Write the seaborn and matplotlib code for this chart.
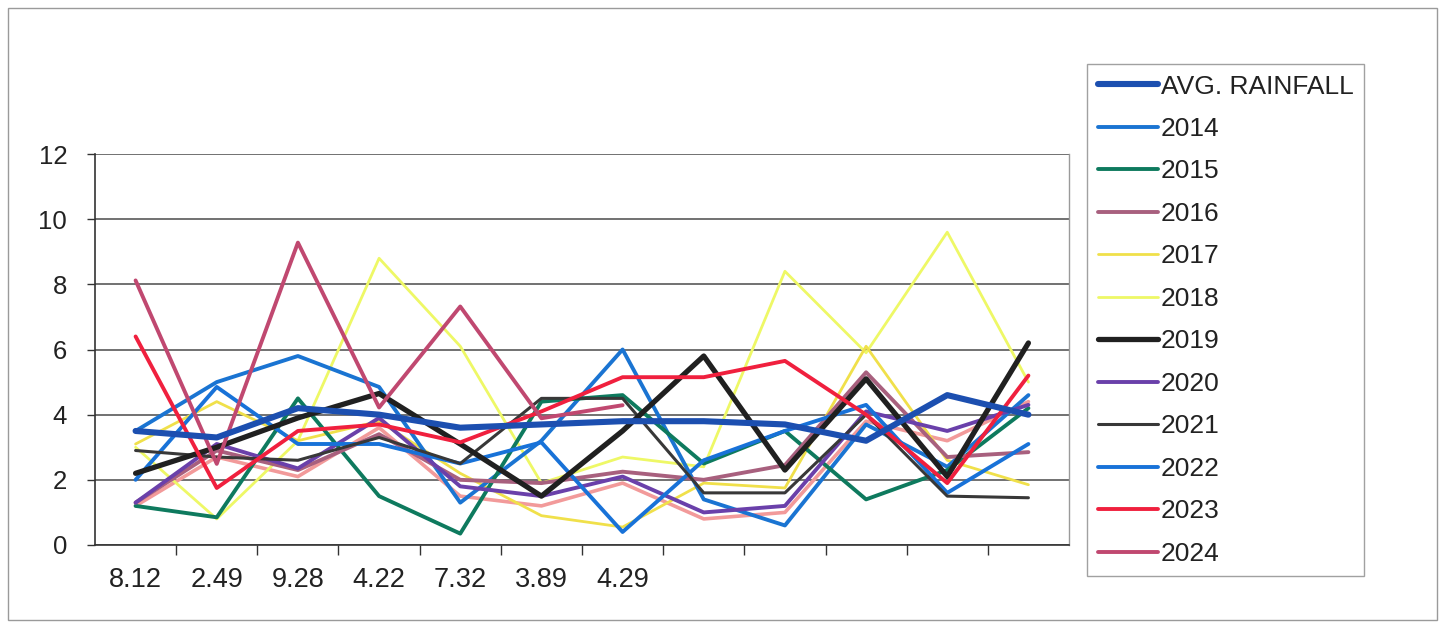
import numpy as np
import pandas as pd
import matplotlib
matplotlib.use("Agg")
import matplotlib.pyplot as plt
from matplotlib.patches import Rectangle
from matplotlib.ticker import FixedLocator, NullFormatter
import seaborn as sns

# ---- data ----
x_labels = ["8.12", "2.49", "9.28", "4.22", "7.32", "3.89", "4.29", "", "", "", "", ""]

avg_rainfall = [3.5, 3.3, 4.2, 4.0, 3.6, 3.7, 3.8, 3.8, 3.7, 3.2, 4.6, 4.0]
y2014 = [3.5, 5.0, 5.8, 4.85, 1.3, 3.2, 6.0, 1.4, 0.6, 3.7, 2.4, 4.6]
y2015 = [1.2, 0.85, 4.5, 1.5, 0.35, 4.4, 4.6, 2.5, 3.5, 1.4, 2.3, 4.2]
y2016 = [1.3, 2.9, 2.3, 3.4, 2.0, 1.9, 2.25, 2.0, 2.45, 5.3, 2.7, 2.85]
y2017 = [3.1, 4.4, 3.2, 3.8, 2.2, 0.9, 0.55, 1.9, 1.75, 6.1, 2.6, 1.85]
y2018 = [3.0, 0.8, 3.2, 8.8, 6.1, 1.9, 2.7, 2.4, 8.4, 5.9, 9.6, 5.0]
y2019 = [2.2, 3.0, 3.9, 4.65, 3.1, 1.5, 3.5, 5.8, 2.3, 5.1, 2.1, 6.2]
y2020 = [1.3, 3.1, 2.35, 3.9, 1.8, 1.5, 2.1, 1.0, 1.2, 4.1, 3.5, 4.3]
y2021 = [2.9, 2.7, 2.6, 3.3, 2.5, 4.5, 4.5, 1.6, 1.6, 4.0, 1.5, 1.45]
y2022 = [2.0, 4.85, 3.1, 3.1, 2.5, 3.15, 0.4, 2.6, 3.5, 4.3, 1.6, 3.1]
y2023 = [6.4, 1.75, 3.5, 3.7, 3.15, 4.1, 5.15, 5.15, 5.65, 4.0, 1.9, 5.2]
y2024 = [8.12, 2.49, 9.28, 4.22, 7.32, 3.89, 4.29, np.nan, np.nan, np.nan, np.nan, np.nan]
# faint pink trace visible just under the 2020 line (print misregistration)
trace_pink = [1.2, 2.7, 2.1, 3.6, 1.5, 1.2, 1.9, 0.8, 1.0, 3.8, 3.2, 4.4]

series_names = ["AVG. RAINFALL", "2014", "2015", "2016", "2017", "2018",
                "2019", "2020", "2021", "2022", "2023", "2024"]
series_values = [avg_rainfall, y2014, y2015, y2016, y2017, y2018,
                 y2019, y2020, y2021, y2022, y2023, y2024]
colors = ["#1c4fb0", "#1a74d2", "#0e7a5e", "#a8607e", "#f0e04a", "#eef866",
          "#202020", "#6a40aa", "#383838", "#1872d8", "#f0203e", "#c04870"]
widths = [4.4, 2.8, 2.8, 2.8, 2.0, 2.0, 3.8, 2.8, 2.2, 2.8, 2.8, 2.8]

sns.set_theme(style="white")
plt.rcParams["font.family"] = ["Liberation Sans", "DejaVu Sans"]

fig = plt.figure(figsize=(14.46, 6.30), dpi=100)
ax = fig.add_axes([95/1446, 1-545/630, (1069-95)/1446, (545-154)/630])

xs = np.arange(len(x_labels))

# extra faint trace first (no legend entry)
sns.lineplot(x=xs, y=trace_pink, ax=ax, color="#f29a9a", linewidth=2.6,
             label="_nolegend_", legend=False)

order = [5, 4, 1, 2, 3, 7, 9, 8, 6, 10, 11, 0]
handles = {}
for i in order:
    df = pd.DataFrame({"x": xs, "y": series_values[i]}).dropna()
    sns.lineplot(data=df, x="x", y="y", ax=ax, color=colors[i],
                 linewidth=widths[i], label=series_names[i], legend=False)
    handles[i] = ax.lines[-1]

ax.set_xlim(-0.5, len(x_labels) - 0.5)
ax.set_ylim(0, 12)
ax.set_yticks(np.arange(0, 13, 2))
ax.yaxis.grid(True, color="#4a4a4a", linewidth=1.1)
ax.xaxis.grid(False)
ax.set_xlabel("")
ax.set_ylabel("")

ax.set_xticks(xs)
ax.set_xticklabels(x_labels)
ax.xaxis.set_minor_locator(FixedLocator(np.arange(0.5, len(x_labels) - 0.5, 1.0)))
ax.xaxis.set_minor_formatter(NullFormatter())
ax.tick_params(axis="x", which="major", length=0, labelsize=19.5, pad=16, colors="#222222")
ax.tick_params(axis="x", which="minor", length=7, width=1, color="#333333", bottom=True)
ax.tick_params(axis="y", which="major", length=6, width=1, color="#333333",
               labelsize=18.5, pad=14, left=True, labelcolor="#222222")

for s in ["left", "bottom"]:
    ax.spines[s].set_color("#333333")
    ax.spines[s].set_linewidth(1.2)
ax.spines["top"].set_visible(False)
ax.spines["right"].set_color("#9a9a9a")
ax.spines["right"].set_linewidth(1.0)

# legend
leg_handles = [handles[i] for i in range(len(series_names))]
leg = fig.legend(leg_handles, series_names, loc="upper left",
                 bbox_to_anchor=(1087/1446, 1-64/630), frameon=True,
                 prop={"size": 19}, handlelength=2.3, handletextpad=0.1,
                 labelspacing=0.70, borderpad=0.4, borderaxespad=0,
                 fancybox=False)
leg.get_frame().set_edgecolor("#8a8a8a")
leg.get_frame().set_linewidth(1.0)
for t in leg.get_texts():
    t.set_color("#222222")

# outer chart border
fig.patches.append(Rectangle((8/1446, 10/630), 1429/1446, 612/630,
                             transform=fig.transFigure, fill=False,
                             edgecolor="#9a9a9a", linewidth=1.0))

fig.savefig("out.png", dpi=100, facecolor="white")
